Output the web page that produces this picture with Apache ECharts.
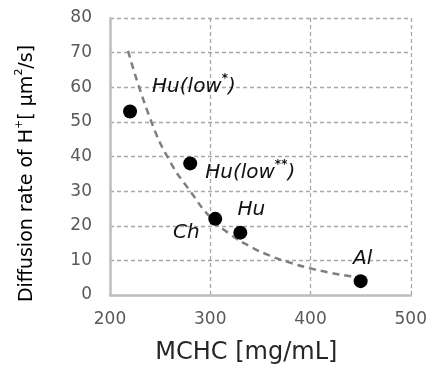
<!DOCTYPE html>
<html>
<head>
<meta charset="utf-8">
<script src="https://cdn.jsdelivr.net/npm/echarts@6/dist/echarts.min.js"></script>
<style>
  html, body { margin: 0; padding: 0; background: #fff; }
  #chart { width: 430px; height: 378px; }
</style>
</head>
<body>
<div id="chart"></div>
<script>
// measured samples
const sampleNames = ['Hu(low*)', 'Hu(low**)', 'Ch', 'Hu', 'Al'];
const sampleMchc = [220, 280, 305, 330, 450];
const sampleRate = [53, 38, 22, 18, 4];

// dashed trend line
const trendMchc = [218, 240, 260, 280, 300, 320, 340, 360, 380, 400, 420, 440, 447];
const trendRate = [70.5, 51, 38.5, 30, 22.5, 17.5, 14, 11.3, 9.3, 7.7, 6.4, 5.4, 5.1];

const xTicks = [200, 300, 400, 500];
const yTicks = [0, 10, 20, 30, 40, 50, 60, 70, 80];

// label text (rich) + where it sits relative to the dot
const labelText = [
  '{t|Hu(low}{s|*}{t|)}',
  '{t|Hu(low}{s|**}{t|)}',
  '{t|Ch}',
  '{t|Hu}',
  '{t|Al}'
];
const labelPlace = [
  { align: 'left', offset: [22, -25] },
  { align: 'left', offset: [15, 9] },
  { align: 'center', offset: [-29, 14] },
  { align: 'center', offset: [11, -23] },
  { align: 'center', offset: [2, -22] }
];

const font = 'DejaVu Sans, Liberation Sans, Arial, sans-serif';

const chart = echarts.init(document.getElementById('chart'));

const points = sampleMchc.map((x, i) => ({
  name: sampleNames[i],
  value: [x, sampleRate[i]],
  label: {
    formatter: labelText[i],
    align: labelPlace[i].align,
    offset: labelPlace[i].offset
  }
}));

chart.setOption({
  animation: false,
  textStyle: { fontFamily: font },
  grid: { left: 110, right: 17, top: 18, bottom: 83, containLabel: false },
  xAxis: {
    type: 'value',
    min: xTicks[0],
    max: xTicks[xTicks.length - 1],
    interval: 100,
    name: 'MCHC [mg/mL]',
    nameLocation: 'middle',
    nameGap: 46,
    nameTextStyle: { fontSize: 24, color: '#262626', fontFamily: font, padding: [0, 28, 0, 0] },
    axisLine: { show: true, lineStyle: { color: '#bfbfbf', width: 2.5 } },
    axisTick: { show: false },
    axisLabel: { color: '#595959', fontSize: 17, margin: 16, fontFamily: font },
    splitLine: { show: true, lineStyle: { color: '#a6a6a6', width: 1.3, type: [4, 3] } }
  },
  yAxis: {
    type: 'value',
    min: yTicks[0],
    max: yTicks[yTicks.length - 1],
    interval: 10,
    name: '{t|Diffusion rate of H}{s|+}{t|[ μm}{s|2}{t|/s]}',
    nameLocation: 'middle',
    nameGap: 70,
    nameTextStyle: {
      fontSize: 19, color: '#000', fontFamily: font, padding: [0, 34, 0, 0],
      rich: {
        t: { fontSize: 19, lineHeight: 26, verticalAlign: 'middle', fontFamily: font, color: '#000' },
        s: { fontSize: 11, lineHeight: 12, verticalAlign: 'top', fontFamily: font, color: '#000' }
      }
    },
    axisLine: { show: true, lineStyle: { color: '#bfbfbf', width: 2.5 } },
    axisTick: { show: false },
    axisLabel: { color: '#595959', fontSize: 17, margin: 18, fontFamily: font },
    splitLine: { show: true, lineStyle: { color: '#a6a6a6', width: 1.3, type: [4, 3] } }
  },
  series: [
    {
      type: 'line',
      data: trendMchc.map((x, i) => [x, trendRate[i]]),
      smooth: true,
      showSymbol: false,
      silent: true,
      z: 2,
      lineStyle: { color: '#7f7f7f', width: 2.5, type: [7, 5] }
    },
    {
      type: 'scatter',
      data: points,
      symbolSize: 14,
      z: 3,
      itemStyle: { color: '#000', opacity: 1 },
      label: {
        show: true,
        position: 'inside',
        verticalAlign: 'middle',
        rich: {
          t: { fontSize: 20, lineHeight: 28, fontStyle: 'italic', verticalAlign: 'middle', color: '#111', fontFamily: font },
          s: { fontSize: 12, lineHeight: 10, fontStyle: 'italic', fontWeight: 'bold', verticalAlign: 'top', color: '#111', fontFamily: font }
        }
      }
    }
  ]
});
</script>
</body>
</html>
